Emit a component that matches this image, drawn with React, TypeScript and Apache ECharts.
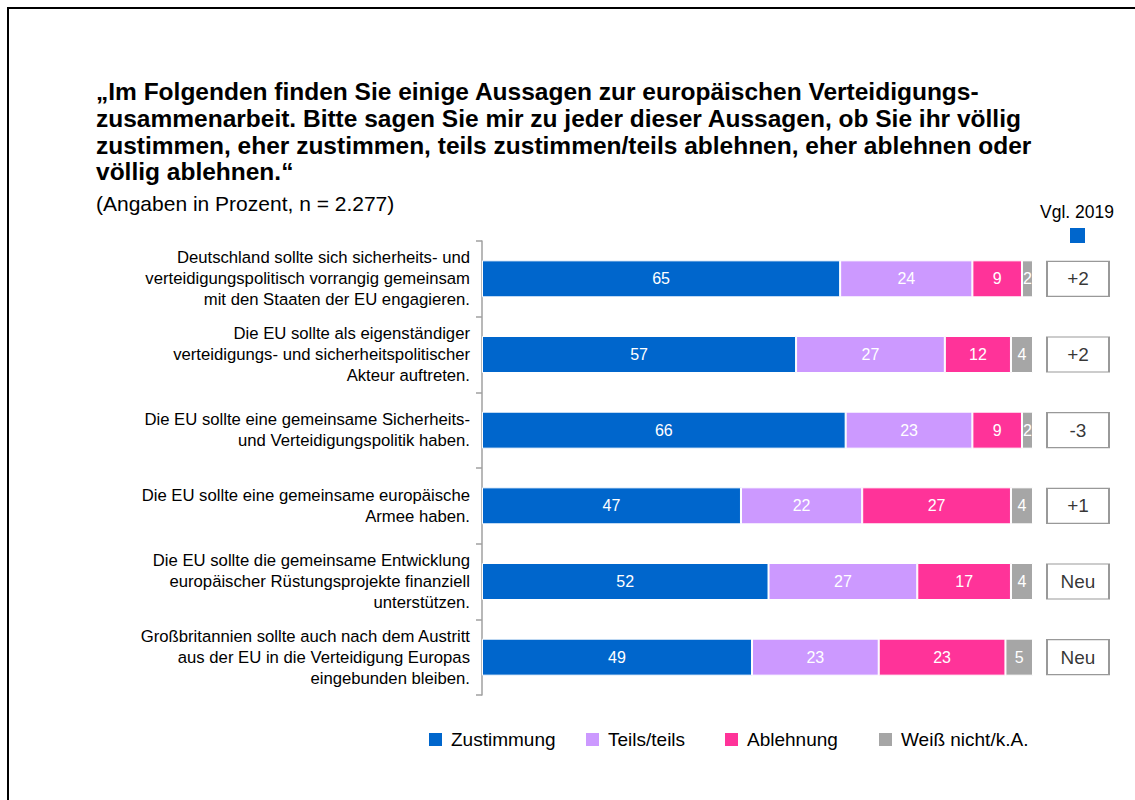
import React, { useEffect, useRef } from "react";
import * as echarts from "echarts";

const categories = [
  "Deutschland sollte sich sicherheits- und\nverteidigungspolitisch vorrangig gemeinsam\nmit den Staaten der EU engagieren.",
  "Die EU sollte als eigenständiger\nverteidigungs- und sicherheitspolitischer\nAkteur auftreten.",
  "Die EU sollte eine gemeinsame Sicherheits-\nund Verteidigungspolitik haben.",
  "Die EU sollte eine gemeinsame europäische\nArmee haben.",
  "Die EU sollte die gemeinsame Entwicklung\neuropäischer Rüstungsprojekte finanziell\nunterstützen.",
  "Großbritannien sollte auch nach dem Austritt\naus der EU in die Verteidigung Europas\neingebunden bleiben.",
];

const zustimmung = [65, 57, 66, 47, 52, 49];
const teils = [24, 27, 23, 22, 27, 23];
const ablehnung = [9, 12, 9, 27, 17, 23];
const weissNicht = [2, 4, 2, 4, 4, 5];
const vergleich2019 = ["+2", "+2", "-3", "+1", "Neu", "Neu"];

const seriesNames = ["Zustimmung", "Teils/teils", "Ablehnung", "Weiß nicht/k.A."];
const colors = ["#0066CC", "#CC99FF", "#FF3399", "#A6A6A6"];

const FONT = "Liberation Sans, Arial, sans-serif";

export default function App() {
  const ref = useRef<HTMLDivElement>(null);

  useEffect(() => {
    if (!ref.current) return;
    const chart = echarts.init(ref.current, undefined, { renderer: "svg" });
    const values = [zustimmung, teils, ablehnung, weissNicht];
    const legendLefts = [427, 584, 723, 877];

    const barSeries = seriesNames.map((name, i) => ({
      name,
      type: "bar",
      stack: "total",
      xAxisIndex: 0,
      yAxisIndex: 0,
      barWidth: 37,
      data: values[i],
      itemStyle: { color: colors[i], borderColor: "#FFFFFF", borderWidth: 1 },
      label: {
        show: true,
        position: "inside",
        color: "#FFFFFF",
        fontSize: 16,
        fontFamily: FONT,
      },
    }));

    const option: any = {
      animation: false,
      backgroundColor: "#FFFFFF",
      textStyle: { fontFamily: FONT },
      title: {
        text:
          "„Im Folgenden finden Sie einige Aussagen zur europäischen Verteidigungs-\nzusammenarbeit. Bitte sagen Sie mir zu jeder dieser Aussagen, ob Sie ihr völlig\nzustimmen, eher zustimmen, teils zustimmen/teils ablehnen, eher ablehnen oder\nvöllig ablehnen.“",
        left: 96,
        top: 78.5,
        padding: 0,
        textStyle: {
          fontFamily: FONT,
          fontSize: 24.5,
          fontWeight: "bold",
          color: "#000000",
          lineHeight: 26.7,
        },
      },
      legend: seriesNames.map((name, i) => ({
        data: [name],
        left: legendLefts[i],
        top: 730,
        padding: 0,
        itemWidth: 15,
        itemHeight: 15,
        icon: "rect",
        selectedMode: false,
        textStyle: {
          fontFamily: FONT,
          fontSize: 19,
          color: "#000000",
          padding: [0, 0, 0, 3],
        },
      })),
      grid: [
        { left: 482, top: 241, width: 551, height: 454 },
        { left: 1047, top: 241, width: 62, height: 454 },
      ],
      xAxis: [
        { type: "value", gridIndex: 0, min: 0, max: 100, show: false },
        { type: "value", gridIndex: 1, min: 0, max: 1, show: false },
      ],
      yAxis: [
        {
          type: "category",
          gridIndex: 0,
          inverse: true,
          data: categories,
          axisLine: { show: true, lineStyle: { color: "#A0A0A0", width: 1.5 } },
          axisTick: { show: true, length: 6, lineStyle: { color: "#A0A0A0", width: 1.5 } },
          axisLabel: {
            margin: 12,
            fontFamily: FONT,
            fontSize: 16.7,
            lineHeight: 21,
            color: "#000000",
            align: "right",
          },
        },
        {
          type: "category",
          gridIndex: 1,
          inverse: true,
          data: categories,
          show: false,
        },
      ],
      series: [
        ...barSeries,
        {
          name: "Vgl. 2019",
          type: "scatter",
          xAxisIndex: 1,
          yAxisIndex: 1,
          symbol: "rect",
          symbolSize: [62, 35],
          data: vergleich2019.map((v, i) => ({ value: [0.5, i], label: { formatter: v } })),
          itemStyle: { color: "#FFFFFF", borderColor: "#808080", borderWidth: 1.5 },
          label: {
            show: true,
            position: "inside",
            color: "#000000",
            fontSize: 19,
            fontFamily: FONT,
          },
        },
      ],
      graphic: [
        {
          type: "line",
          shape: { x1: 8, y1: 7, x2: 8, y2: 800 },
          style: { stroke: "#000000", lineWidth: 2 },
        },
        {
          type: "line",
          shape: { x1: 7, y1: 8, x2: 1135, y2: 8 },
          style: { stroke: "#000000", lineWidth: 2 },
        },
        {
          type: "text",
          x: 96,
          y: 203,
          style: {
            text: "(Angaben in Prozent, n = 2.277)",
            fontFamily: FONT,
            fontSize: 21,
            fill: "#000000",
            verticalAlign: "middle",
          },
        },
        {
          type: "text",
          x: 1077,
          y: 212,
          style: {
            text: "Vgl. 2019",
            fontFamily: FONT,
            fontSize: 17.5,
            fill: "#000000",
            align: "center",
            verticalAlign: "middle",
          },
        },
        {
          type: "rect",
          shape: { x: 1070, y: 228, width: 15, height: 15 },
          style: { fill: "#0066CC" },
        },
      ],
    };

    chart.setOption(option);
    return () => chart.dispose();
  }, []);

  return (
    <div
      ref={ref}
      style={{ position: "fixed", left: 0, top: 0, width: 1135, height: 800 }}
    />
  );
}
